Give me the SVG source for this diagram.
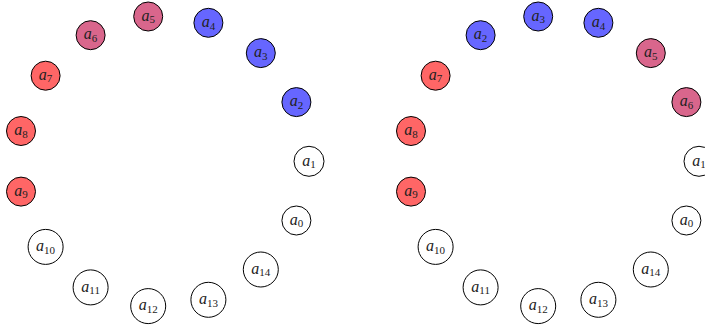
<svg xmlns="http://www.w3.org/2000/svg" width="705" height="329" viewBox="0 0 705 329">
<style>
.n{stroke:#000;stroke-width:1}
.w{fill:#fff}.r{fill:#ff6666}.b{fill:#6666ff}.p{fill:#d9668c}
text{font-family:"Liberation Serif","DejaVu Serif",serif;font-size:16px;fill:#222;text-anchor:middle}
.i{font-style:italic}
.s{font-size:11px}
</style>
<rect width="705" height="329" fill="#fff"/>
<g id="connectors"/>
<g id="left">
<g id="L1"><circle class="n w" cx="309" cy="161.3" r="15"/><text x="309" y="165.5"><tspan class="i">a</tspan><tspan class="s" dy="2.5">1</tspan></text></g>
<g id="L2"><circle class="n b" cx="296.4" cy="102.1" r="14.5"/><text x="296.4" y="106.3"><tspan class="i">a</tspan><tspan class="s" dy="2.5">2</tspan></text></g>
<g id="L3"><circle class="n b" cx="260.8" cy="53.1" r="14.5"/><text x="260.8" y="57.3"><tspan class="i">a</tspan><tspan class="s" dy="2.5">3</tspan></text></g>
<g id="L4"><circle class="n b" cx="208.4" cy="22.8" r="14.5"/><text x="208.4" y="27"><tspan class="i">a</tspan><tspan class="s" dy="2.5">4</tspan></text></g>
<g id="L5"><circle class="n p" cx="148.2" cy="16.5" r="14.5"/><text x="148.2" y="20.7"><tspan class="i">a</tspan><tspan class="s" dy="2.5">5</tspan></text></g>
<g id="L6"><circle class="n p" cx="90.6" cy="35.2" r="14.5"/><text x="90.6" y="39.4"><tspan class="i">a</tspan><tspan class="s" dy="2.5">6</tspan></text></g>
<g id="L7"><circle class="n r" cx="45.6" cy="75.7" r="14.5"/><text x="45.6" y="79.9"><tspan class="i">a</tspan><tspan class="s" dy="2.5">7</tspan></text></g>
<g id="L8"><circle class="n r" cx="21" cy="131" r="14.5"/><text x="21" y="135.2"><tspan class="i">a</tspan><tspan class="s" dy="2.5">8</tspan></text></g>
<g id="L9"><circle class="n r" cx="21" cy="191.6" r="14.5"/><text x="21" y="195.8"><tspan class="i">a</tspan><tspan class="s" dy="2.5">9</tspan></text></g>
<g id="L10"><circle class="n w" cx="45.6" cy="246.9" r="17.5"/><text x="45.6" y="251.1"><tspan class="i">a</tspan><tspan class="s" dy="2.5">10</tspan></text></g>
<g id="L11"><circle class="n w" cx="90.6" cy="287.4" r="17.5"/><text x="90.6" y="291.6"><tspan class="i">a</tspan><tspan class="s" dy="2.5">11</tspan></text></g>
<g id="L12"><circle class="n w" cx="148.2" cy="306.1" r="17.5"/><text x="148.2" y="310.3"><tspan class="i">a</tspan><tspan class="s" dy="2.5">12</tspan></text></g>
<g id="L13"><circle class="n w" cx="208.4" cy="299.8" r="17.5"/><text x="208.4" y="304"><tspan class="i">a</tspan><tspan class="s" dy="2.5">13</tspan></text></g>
<g id="L14"><circle class="n w" cx="260.8" cy="269.5" r="17.5"/><text x="260.8" y="273.7"><tspan class="i">a</tspan><tspan class="s" dy="2.5">14</tspan></text></g>
<g id="L0"><circle class="n w" cx="296.4" cy="220.5" r="14.5"/><text x="296.4" y="224.7"><tspan class="i">a</tspan><tspan class="s" dy="2.5">0</tspan></text></g>
</g>
<g id="right">
<g id="R1"><circle class="n w" cx="699" cy="161.3" r="15"/><text x="699" y="165.5"><tspan class="i">a</tspan><tspan class="s" dy="2.5">1</tspan></text></g>
<g id="R6"><circle class="n p" cx="686.4" cy="102.1" r="14.5"/><text x="686.4" y="106.3"><tspan class="i">a</tspan><tspan class="s" dy="2.5">6</tspan></text></g>
<g id="R5"><circle class="n p" cx="650.8" cy="53.1" r="14.5"/><text x="650.8" y="57.3"><tspan class="i">a</tspan><tspan class="s" dy="2.5">5</tspan></text></g>
<g id="R4"><circle class="n b" cx="598.4" cy="22.8" r="14.5"/><text x="598.4" y="27"><tspan class="i">a</tspan><tspan class="s" dy="2.5">4</tspan></text></g>
<g id="R3"><circle class="n b" cx="538.2" cy="16.5" r="14.5"/><text x="538.2" y="20.7"><tspan class="i">a</tspan><tspan class="s" dy="2.5">3</tspan></text></g>
<g id="R2"><circle class="n b" cx="480.6" cy="35.2" r="14.5"/><text x="480.6" y="39.4"><tspan class="i">a</tspan><tspan class="s" dy="2.5">2</tspan></text></g>
<g id="R7"><circle class="n r" cx="435.6" cy="75.7" r="14.5"/><text x="435.6" y="79.9"><tspan class="i">a</tspan><tspan class="s" dy="2.5">7</tspan></text></g>
<g id="R8"><circle class="n r" cx="411" cy="131" r="14.5"/><text x="411" y="135.2"><tspan class="i">a</tspan><tspan class="s" dy="2.5">8</tspan></text></g>
<g id="R9"><circle class="n r" cx="411" cy="191.6" r="14.5"/><text x="411" y="195.8"><tspan class="i">a</tspan><tspan class="s" dy="2.5">9</tspan></text></g>
<g id="R10"><circle class="n w" cx="435.6" cy="246.9" r="17.5"/><text x="435.6" y="251.1"><tspan class="i">a</tspan><tspan class="s" dy="2.5">10</tspan></text></g>
<g id="R11"><circle class="n w" cx="480.6" cy="287.4" r="17.5"/><text x="480.6" y="291.6"><tspan class="i">a</tspan><tspan class="s" dy="2.5">11</tspan></text></g>
<g id="R12"><circle class="n w" cx="538.2" cy="306.1" r="17.5"/><text x="538.2" y="310.3"><tspan class="i">a</tspan><tspan class="s" dy="2.5">12</tspan></text></g>
<g id="R13"><circle class="n w" cx="598.4" cy="299.8" r="17.5"/><text x="598.4" y="304"><tspan class="i">a</tspan><tspan class="s" dy="2.5">13</tspan></text></g>
<g id="R14"><circle class="n w" cx="650.8" cy="269.5" r="17.5"/><text x="650.8" y="273.7"><tspan class="i">a</tspan><tspan class="s" dy="2.5">14</tspan></text></g>
<g id="R0"><circle class="n w" cx="686.4" cy="220.5" r="14.5"/><text x="686.4" y="224.7"><tspan class="i">a</tspan><tspan class="s" dy="2.5">0</tspan></text></g>
</g>
</svg>
